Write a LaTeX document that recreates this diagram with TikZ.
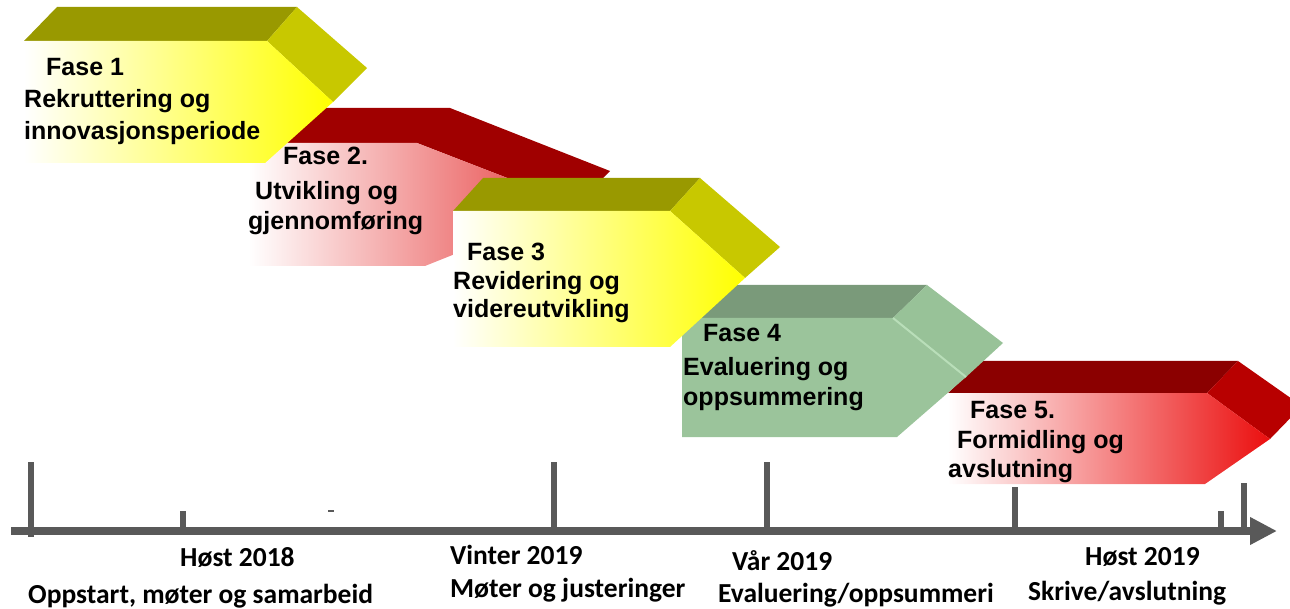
\documentclass[tikz,border=0pt]{standalone}
\usepackage{fontspec}
\setmainfont{Liberation Sans}
\newfontfamily\calfont{Carlito}
\usetikzlibrary{arrows.meta}

\definecolor{olivetop}{RGB}{153,153,0}
\definecolor{oliveside}{RGB}{200,200,0}
\definecolor{yel}{RGB}{255,255,0}
\definecolor{yelmid}{RGB}{255,255,150}
\definecolor{redtopA}{RGB}{160,0,0}
\definecolor{redmidA}{RGB}{245,172,172}
\definecolor{redfrontA}{RGB}{230,60,60}
\definecolor{greentop}{RGB}{122,154,122}
\definecolor{greenfront}{RGB}{155,196,155}
\definecolor{greenside}{RGB}{152,194,152}
\definecolor{greenline}{RGB}{185,222,185}
\definecolor{redtopB}{RGB}{139,0,0}
\definecolor{redsideB}{RGB}{184,0,0}
\definecolor{redmidB}{RGB}{242,155,155}
\definecolor{redfrontB}{RGB}{235,15,15}
\definecolor{axisgray}{RGB}{89,89,89}

\begin{document}
\begin{tikzpicture}[x=1pt,y=-1pt,
  phasetext/.style={anchor=base west, inner sep=0pt, font=\fontsize{25}{25}\selectfont\bfseries},
  timetext/.style={anchor=base west, inner sep=0pt, font=\calfont\fontsize{27.5}{27.5}\selectfont\bfseries},
  ticks/.style={line width=6pt, draw=axisgray},
]
\useasboundingbox (0,0) rectangle (1290,609);
\clip (0,0) rectangle (1290,609);

% ---------- Phase 5 ----------
\fill[redtopB] (948,393) -- (980,361) -- (1238,361) -- (1207,393) -- cycle;
\fill[redsideB] (1207,393) -- (1238,361) -- (1302,406) -- (1270,439) -- cycle;
\shade[left color=white, middle color=redmidB, right color=redfrontB] (948,393) -- (1207,393) -- (1270,439) -- (1205,484) -- (948,484) -- cycle;

% ---------- Phase 4 ----------
\fill[greentop] (682,318) -- (715,285) -- (927,285) -- (893,318) -- cycle;
\fill[greenside] (893,318) -- (927,285) -- (1003,343) -- (966,377) -- cycle;
\fill[greenfront] (682,318) -- (893,318) -- (966,377) -- (897,437) -- (682,437) -- cycle;
\draw[greenline, line width=2pt] (893,318) -- (966,377);

% ---------- Phase 2 ----------
\fill[redtopA] (249,143) -- (282,108) -- (450,108) -- (610,171) -- (577,205) -- (417,143) -- cycle;
\shade[left color=white, middle color=redmidA, right color=redfrontA] (249,143) -- (417,143) -- (577,205) -- (425,266) -- (249,266) -- cycle;

% ---------- Phase 3 ----------
\fill[olivetop] (453,211) -- (483,178) -- (700,178) -- (670,211) -- cycle;
\fill[oliveside] (670,211) -- (700,178) -- (780,247) -- (745,278) -- cycle;
\shade[left color=white, middle color=yelmid, right color=yel] (453,211) -- (670,211) -- (745,278) -- (670,347) -- (453,347) -- cycle;

% ---------- Phase 1 ----------
\fill[olivetop] (24,41) -- (57,7) -- (297,7) -- (267,41) -- cycle;
\fill[oliveside] (267,41) -- (297,7) -- (367,68) -- (333,102) -- cycle;
\shade[left color=white, middle color=yelmid, right color=yel] (24,41) -- (267,41) -- (333,102) -- (265,163) -- (24,163) -- cycle;

% ---------- Phase texts ----------
\node[phasetext] (f1a) at (46,76) {Fase 1};
\node[phasetext] (f1b) at (24,108) {Rekruttering og};
\node[phasetext] (f1c) at (24,140) {innovasjonsperiode};

\node[phasetext] (f2a) at (283,165) {Fase 2.};
\node[phasetext] (f2b) at (255,200) {Utvikling og};
\node[phasetext] (f2c) at (248,230) {gjennomføring};

\node[phasetext] (f3a) at (467,261) {Fase 3};
\node[phasetext] (f3b) at (453,290) {Revidering og};
\node[phasetext] (f3c) at (453,318) {videreutvikling};

\node[phasetext] (f4a) at (703,342) {Fase 4};
\node[phasetext] (f4b) at (683,375) {Evaluering og};
\node[phasetext] (f4c) at (683,405) {oppsummering};

\node[phasetext] (f5a) at (970,418) {Fase 5.};
\node[phasetext] (f5b) at (957,448) {Formidling og};
\node[phasetext] (f5c) at (948,477) {avslutning};

% ---------- Timeline ----------
\coordinate (axstart) at (11,531);
\coordinate (axend) at (1277,531);
\draw[line width=8pt, axisgray, -{Triangle[length=27pt,width=26pt]}] (axstart) -- (axend);

\draw[ticks] (31,462) -- (31,537);
\draw[ticks] (183,511) -- (183,533);
\draw[ticks] (554,462) -- (554,535);
\draw[ticks] (767,462) -- (767,535);
\draw[ticks] (1015,487) -- (1015,535);
\draw[ticks] (1221,511) -- (1221,533);
\draw[ticks] (1244,483) -- (1244,533);
\draw[axisgray, line width=2pt] (328,511) -- (334,511);

\node[timetext] (t1a) at (180,566) {Høst 2018};
\node[timetext] (t1b) at (28,603) {Oppstart, møter og samarbeid};
\node[timetext] (t2a) at (450,564) {Vinter 2019};
\node[timetext] (t2b) at (450,597) {Møter og justeringer};
\node[timetext] (t3a) at (732,570) {Vår 2019};
\node[timetext] (t3b) at (718,602) {Evaluering/oppsummeri};
\node[timetext] (t4a) at (1085,565) {Høst 2019};
\node[timetext] (t4b) at (1028,600) {Skrive/avslutning};
\end{tikzpicture}
\end{document}
